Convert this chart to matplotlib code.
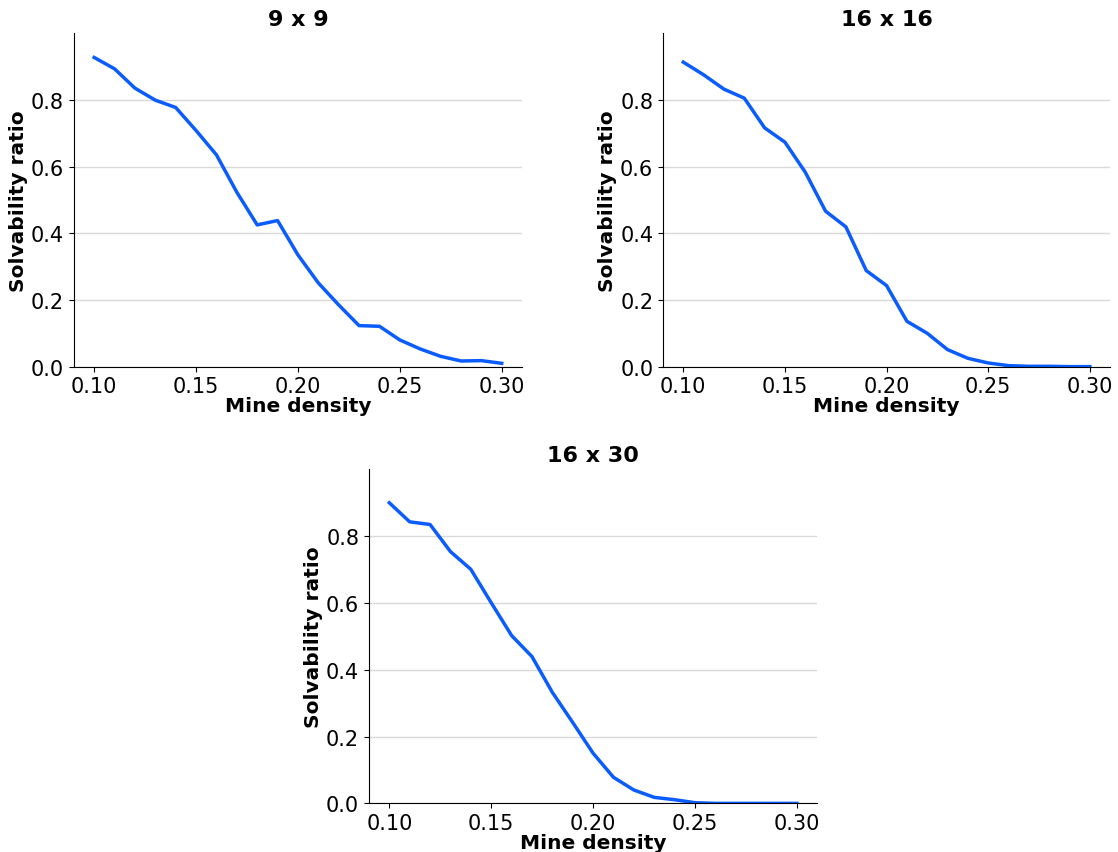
import numpy as np
import matplotlib
matplotlib.use('Agg')
import matplotlib.pyplot as plt

# Mine density values (x axis, shared)
density = [0.10, 0.11, 0.12, 0.13, 0.14, 0.15, 0.16, 0.17, 0.18, 0.19, 0.20,
           0.21, 0.22, 0.23, 0.24, 0.25, 0.26, 0.27, 0.28, 0.29, 0.30]

# Solvability ratio for each board size
ratio_9x9 = [0.927, 0.893, 0.835, 0.799, 0.777, 0.708, 0.635, 0.523, 0.425, 0.438, 0.335,
             0.251, 0.185, 0.123, 0.121, 0.080, 0.053, 0.031, 0.017, 0.018, 0.010]
ratio_16x16 = [0.913, 0.875, 0.832, 0.805, 0.716, 0.673, 0.583, 0.466, 0.419, 0.288, 0.243,
               0.136, 0.100, 0.051, 0.025, 0.011, 0.003, 0.001, 0.001, 0.0, 0.0]
ratio_16x30 = [0.899, 0.842, 0.834, 0.753, 0.700, 0.600, 0.502, 0.439, 0.332, 0.242, 0.150,
               0.078, 0.040, 0.018, 0.011, 0.002, 0.0, 0.0, 0.0, 0.0, 0.0]

titles = ['9 x 9', '16 x 16', '16 x 30']
series = [ratio_9x9, ratio_16x16, ratio_16x30]

fig = plt.figure(figsize=(11.18, 8.53), dpi=100)

# axes placement [left, bottom, width, height]
positions = [
    [0.066, 0.569, 0.401, 0.391],
    [0.593, 0.569, 0.400, 0.391],
    [0.330, 0.057, 0.401, 0.392],
]

for pos, title, vals in zip(positions, titles, series):
    ax = fig.add_axes(pos)
    ax.plot(density, vals, color='#0a5cff', linewidth=2.5)
    ax.set_ylim(0, 1.0)
    ax.set_yticks([0.0, 0.2, 0.4, 0.6, 0.8])
    ax.set_xticks([0.10, 0.15, 0.20, 0.25, 0.30])
    ax.set_xticklabels(['0.10', '0.15', '0.20', '0.25', '0.30'])
    ax.grid(axis='y', color='#d9d9d9', linewidth=1)
    ax.set_axisbelow(True)
    ax.spines['top'].set_visible(False)
    ax.spines['right'].set_visible(False)
    ax.tick_params(labelsize=15)
    ax.set_title(title, fontsize=16, fontweight='bold')
    ax.set_xlabel('Mine density', fontsize=14.5, fontweight='bold', labelpad=0)
    ax.set_ylabel('Solvability ratio', fontsize=14.5, fontweight='bold', labelpad=2)

fig.savefig('out.png', dpi=100)
